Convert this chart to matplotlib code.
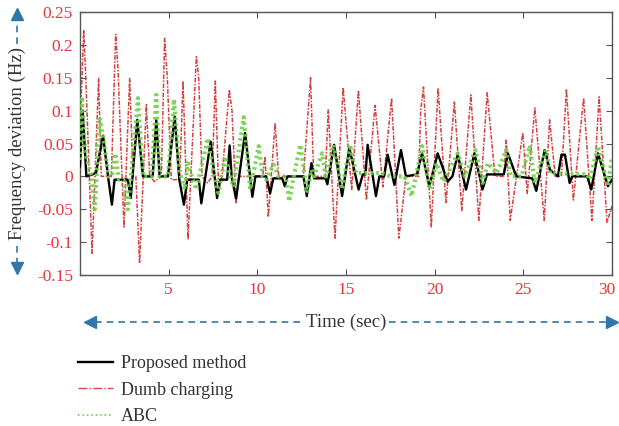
import matplotlib
matplotlib.use("Agg")
import matplotlib.pyplot as plt
import matplotlib.transforms as mtransforms
from matplotlib.lines import Line2D

plt.rcParams['font.family'] = ['Liberation Serif', 'DejaVu Serif']

# Dumb charging (red dash-dot)
t_dumb = [0.0, 0.21, 0.36, 0.68, 1.05, 1.2, 1.77, 2.01, 2.14, 2.48, 2.8, 2.99, 3.15, 3.36,
          3.74, 3.93, 4.21, 4.59, 4.77, 4.92, 5.15, 5.62, 5.81, 6.09, 6.56, 6.69, 6.88, 7.2,
          7.45, 7.63, 7.82, 8.01, 8.42, 8.57, 8.80, 8.95, 10.3, 10.43, 10.62, 11.0, 11.2, 12.6,
          13.0, 13.18, 13.83, 14.0, 14.38, 14.84, 15.32, 15.7, 16.15, 16.64, 17.08, 17.57,
          17.98, 18.38, 19.1, 19.21, 19.37, 19.81, 20.19, 20.64, 21.11, 21.53, 22.04, 22.49,
          22.96, 23.4, 23.9, 24.03, 24.26, 24.97, 25.22, 25.65, 26.18, 26.48, 26.8, 27.15,
          27.43, 27.82, 28.4, 28.87, 29.27, 29.72, 30.0]
f_dumb = [0.07, 0.223, 0.126, -0.117, 0.149, 0.0, 0.0, 0.216, 0.165, -0.077, 0.149, 0.0, 0.0, -0.132,
          0.109, 0.0, -0.008, 0.0, 0.21, 0.152, -0.005, -0.005, 0.145, -0.096, 0.182, 0.152, 0.0, -0.01,
          0.0, 0.145, -0.02, 0.0, 0.132, 0.10, -0.04, 0.0, 0.0, 0.03, -0.062, 0.081, 0.0, 0.0,
          0.15, 0.0, 0.0, 0.101, -0.094, 0.135, -0.02, 0.131, -0.036, 0.108, -0.016, 0.119,
          -0.094, 0.0, 0.0, 0.10, 0.136, -0.077, 0.134, -0.04, 0.113, -0.052, 0.124, -0.067,
          0.127, 0.0, 0.0, 0.055, -0.067, 0.066, -0.026, 0.104, -0.067, 0.086, 0.0, 0.0,
          0.133, -0.036, 0.119, -0.067, 0.121, -0.07, -0.045]

# Proposed method (black solid)
t_prop = [0.0, 0.15, 0.36, 0.7, 0.9, 1.3, 1.58, 1.8, 1.95, 2.7, 2.86, 3.23, 3.55, 4.1, 4.3, 4.49,
          4.96, 5.34, 5.6, 5.86, 6.05, 6.7, 6.84, 7.37, 7.73, 7.9, 8.3, 8.44, 8.55, 8.8, 9.31,
          9.72, 9.89, 10.5, 10.72, 10.9, 11.4, 11.55, 11.7, 12.6, 12.79, 13.05, 13.2, 13.85,
          13.95, 14.33, 14.78, 15.19, 15.71, 15.95, 16.1, 16.22, 16.69, 16.88, 17.15, 17.35,
          17.73, 18.1, 18.38, 19.0, 19.29, 19.7, 20.17, 20.73, 21.0, 21.3, 21.77, 22.24, 22.7,
          22.95, 23.9, 24.13, 24.6, 25.5, 25.73, 26.2, 26.5, 26.95, 27.15, 27.35, 27.61, 27.75,
          28.6, 28.83, 29.21, 29.77, 30.0]
f_prop = [0.015, 0.1, 0.0, 0.003, 0.005, 0.062, 0.0, -0.043, -0.005, -0.005, -0.033, 0.086, 0.0, 0.0, 0.086, 0.0,
          0.0, 0.091, -0.005, -0.043, -0.005, -0.005, -0.041, 0.053, -0.033, -0.005, -0.005, 0.047, 0.0, -0.034, 0.066,
          -0.031, 0.0, 0.0, -0.026, -0.003, -0.003, -0.015, 0.0, 0.0, -0.03, 0.02, -0.003, -0.003,
          -0.012, 0.048, -0.03, 0.043, -0.02, 0.003, 0.003, 0.048, -0.03, 0.0, 0.0, 0.033,
          -0.013, 0.04, 0.0, 0.003, 0.035, -0.015, 0.035, -0.008, 0.0, 0.033, -0.02, 0.035, -0.02,
          0.003, 0.003, 0.035, 0.0, -0.003, -0.022, 0.04, 0.01, 0.0, 0.033, 0.033, -0.01, 0.0,
          0.0, -0.02, 0.035, -0.015, -0.005]

# ABC (green dotted)
t_abc = [0.0, 0.11, 0.26, 0.45, 0.65, 0.83, 1.11, 1.3, 1.6, 1.8, 1.99, 2.2, 2.45, 2.7, 3.27, 3.55,
         4.05, 4.3, 4.49, 4.96, 5.3, 5.6, 5.9, 6.08, 6.3, 6.56, 7.2, 7.5, 7.8, 8.18, 8.65, 9.23,
         9.6, 10.08, 10.3, 10.5, 10.92, 11.2, 11.6, 11.8, 12.05, 12.43, 12.8, 13.05, 13.2, 13.65,
         13.85, 14.0, 14.3, 14.78, 15.23, 15.56, 17.0, 17.5, 18.3, 18.7, 18.9, 19.29, 19.72, 20.1,
         20.5, 21.3, 21.7, 22.3, 22.7, 23.0, 23.5, 24.04, 24.3, 24.9, 25.36, 25.64, 26.29, 26.5,
         28.6, 28.75, 29.21, 29.77, 30.0]
f_abc = [0.025, 0.121, 0.04, 0.02, 0.0, -0.05, 0.089, 0.06, 0.0, 0.0, 0.035, -0.005, -0.005, -0.05, 0.119, 0.0,
         0.0, 0.124, 0.0, 0.0, 0.117, 0.01, -0.02, 0.02, 0.0, -0.02, 0.058, 0.01, -0.025, 0.03, -0.016, 0.09,
         -0.02, 0.046, 0.0, -0.005, 0.018, 0.0, 0.0, -0.038, 0.0, 0.048, -0.025, 0.01, 0.0, 0.035,
         0.0, 0.01, 0.048, -0.02, 0.048, 0.005, 0.005, 0.0, 0.0, -0.03, -0.005, 0.046, -0.02, 0.02,
         -0.008, 0.035, 0.0, 0.04, -0.01, 0.02, 0.005, 0.04, 0.0, 0.0, 0.047, -0.01, 0.04, 0.005,
         0.003, -0.005, 0.046, -0.015, 0.03]

x_ticks = [5, 10, 15, 20, 25, 30]
y_ticks = [-0.15, -0.1, -0.05, 0, 0.05, 0.1, 0.15, 0.2, 0.25]
y_ticklabels = ['-0.15', '-0.1', '-0.05', '0', '0.05', '0.1', '0.15', '0.2', '0.25']

red = '#d02a2a'
green = '#6fcf4a'
blue = '#2f77aa'
tick_red = '#e8343c'
W, H = 619, 426

fig = plt.figure(figsize=(6.19, 4.26), dpi=100)
ax = fig.add_axes([80 / W, 1 - 275 / H, 532 / W, 263 / H])

ax.plot(t_dumb, f_dumb, color=red, lw=1.1, linestyle=(0, (3, 1, 1, 1)), alpha=0.9, zorder=2)
ax.plot(t_prop, f_prop, color='black', lw=1.7, zorder=3)
ax.plot(t_abc, f_abc, color=green, lw=3.0, linestyle=(0, (0.6, 0.8)), alpha=0.9, zorder=4)

ax.set_xlim(0, 30)
ax.set_ylim(-0.15, 0.25)
ax.set_xticks(x_ticks)
ax.set_xticklabels([str(v) for v in x_ticks])
ax.set_yticks(y_ticks)
ax.set_yticklabels(y_ticklabels)
ax.tick_params(direction='in', top=True, right=True, length=4, color='#555555',
               labelcolor=tick_red, labelsize=12.5, pad=5)
for s in ax.spines.values():
    s.set_color('#555555')
    s.set_linewidth(1.0)

# last x tick label sits a little left so it fits in the figure
last = ax.get_xticklabels()[-1]
last.set_transform(last.get_transform() +
                   mtransforms.ScaledTranslation(-5 / 100, 0, fig.dpi_scale_trans))

# axis labels with blue dashed arrows
def fx(p):
    return p / W

def fy(p):
    return 1 - p / H

fig.text(fx(17), fy(144), 'Frequency deviation (Hz)', rotation=90, ha='center', va='center',
         fontsize=13.5, color='#333333')
fig.add_artist(Line2D([fx(17), fx(17)], [fy(44), fy(18)], color=blue, lw=1.2, ls=(0, (4, 3))))
fig.add_artist(Line2D([fx(17), fx(17)], [fy(246), fy(264)], color=blue, lw=1.2, ls=(0, (4, 3))))
fig.add_artist(Line2D([fx(17)], [fy(14)], marker='^', color=blue, markersize=9, ls='none'))
fig.add_artist(Line2D([fx(17)], [fy(268)], marker='v', color=blue, markersize=9, ls='none'))

fig.text(fx(346), fy(322), 'Time (sec)', ha='center', va='center', fontsize=13.5, color='#333333')
fig.add_artist(Line2D([fx(95), fx(304)], [fy(322), fy(322)], color=blue, lw=1.2, ls=(0, (4, 3))))
fig.add_artist(Line2D([fx(389), fx(607)], [fy(322), fy(322)], color=blue, lw=1.2, ls=(0, (4, 3))))
fig.add_artist(Line2D([fx(90)], [fy(322)], marker='<', color=blue, markersize=9, ls='none'))
fig.add_artist(Line2D([fx(612)], [fy(322)], marker='>', color=blue, markersize=9, ls='none'))

handles = [Line2D([], [], color='black', lw=1.7),
           Line2D([], [], color='#e8414a', lw=1.0, ls='-.'),
           Line2D([], [], color=green, lw=1.2, ls=':')]
fig.legend(handles, ['Proposed method', 'Dumb charging', 'ABC'], loc='upper left',
           bbox_to_anchor=(fx(62), fy(339)), frameon=False, fontsize=13, handlelength=1.9,
           labelspacing=0.52, handletextpad=0.45, labelcolor='#333333')

fig.savefig('out.png', dpi=100)
